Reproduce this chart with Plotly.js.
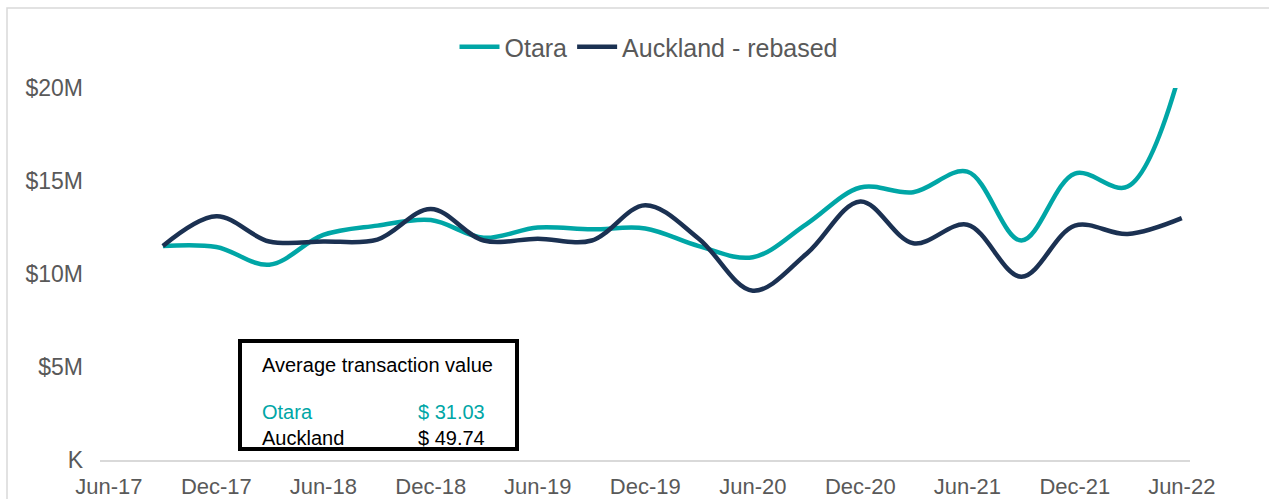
<!DOCTYPE html>
<html>
<head>
<meta charset="utf-8">
<script src="https://cdn.plot.ly/plotly-3.0.1.min.js"></script>
<style>
    body { margin: 0; background: white; }
    #graph { width: 1269px; height: 499px; }
</style>
</head>
<body>
<div id="graph"></div>
<script>
// Datos trimestrales (millones de dolares)
var fechas = ['2017-09-01', '2017-12-01', '2018-03-01', '2018-06-01', '2018-09-01',
    '2018-12-01', '2019-03-01', '2019-06-01', '2019-09-01', '2019-12-01',
    '2020-03-01', '2020-06-01', '2020-09-01', '2020-12-01', '2021-03-01',
    '2021-06-01', '2021-09-01', '2021-12-01', '2022-03-01', '2022-06-01'];
var otara = [11.5, 11.45, 10.5, 12.1, 12.6, 12.9, 11.95, 12.5, 12.4, 12.45,
    11.5, 10.9, 12.7, 14.65, 14.4, 15.5, 11.8, 15.4, 14.7, 21.2];
var auckland = [11.5, 13.1, 11.75, 11.75, 11.85, 13.5, 11.8, 11.9, 11.8, 13.7,
    11.9, 9.1, 11.1, 13.9, 11.65, 12.65, 9.85, 12.6, 12.15, 13.0];
var nombres = ['Otara', 'Auckland - rebased'];
var yTicks = [0, 5, 10, 15, 20];
var yLabels = ['K', '$5M', '$10M', '$15M', '$20M'];

// Texto del recuadro
var cajaTitulo = 'Average transaction value';
var cajaFilas = [['Otara', '$ 31.03'], ['Auckland', '$ 49.74']];

var colorOtara = '#00A6A6';
var colorAuck = '#1B3152';
var gris = '#595959';
var fuente = 'Liberation Sans, Arial, sans-serif';

// Pasa pixeles de la imagen a coordenadas "paper"
var px0 = 100, px1 = 1190, py0 = 460, py1 = 88;
function paperX(px) { return (px - px0) / (px1 - px0); }
function paperY(py) { return (py0 - py) / (py0 - py1); }

var trazaOtara = {
    x: fechas,
    y: otara,
    mode: 'lines',
    name: nombres[0],
    line: { color: colorOtara, width: 4.5, shape: 'spline', smoothing: 1 }
};
var trazaAuck = {
    x: fechas,
    y: auckland,
    mode: 'lines',
    name: nombres[1],
    line: { color: colorAuck, width: 4.5, shape: 'spline', smoothing: 1 }
};

var anotaciones = [{
    xref: 'paper', yref: 'paper',
    x: paperX(260), y: paperY(365),
    xanchor: 'left', yanchor: 'middle',
    text: cajaTitulo, showarrow: false,
    font: { family: fuente, size: 20, color: 'black' }
}];
var filasY = [412, 438];
var filasColor = [colorOtara, 'black'];
for (var i = 0; i < cajaFilas.length; i++) {
    anotaciones.push({
        xref: 'paper', yref: 'paper',
        x: paperX(260), y: paperY(filasY[i]),
        xanchor: 'left', yanchor: 'middle',
        text: cajaFilas[i][0], showarrow: false,
        font: { family: fuente, size: 20, color: filasColor[i] }
    });
    anotaciones.push({
        xref: 'paper', yref: 'paper',
        x: paperX(487), y: paperY(filasY[i]),
        xanchor: 'right', yanchor: 'middle',
        text: cajaFilas[i][1], showarrow: false,
        font: { family: fuente, size: 20, color: filasColor[i] }
    });
}

var formas = [
    // borde exterior del grafico
    {
        type: 'rect', xref: 'paper', yref: 'paper',
        x0: paperX(7), x1: paperX(1300), y0: paperY(530), y1: paperY(8),
        line: { color: '#D9D9D9', width: 1.5 }
    },
    // recuadro
    {
        type: 'rect', xref: 'paper', yref: 'paper',
        x0: paperX(240), x1: paperX(517), y0: paperY(449), y1: paperY(341),
        line: { color: 'black', width: 4 }, fillcolor: 'rgba(0,0,0,0)'
    }
];

var layout = {
    width: 1269,
    height: 499,
    margin: { l: px0, r: 1269 - px1, t: py1, b: 499 - py0 },
    paper_bgcolor: 'white',
    plot_bgcolor: 'white',
    font: { family: fuente, color: gris },
    showlegend: true,
    legend: {
        orientation: 'h',
        x: paperX(649), xanchor: 'center',
        y: paperY(47), yanchor: 'middle',
        font: { size: 25, color: gris },
        itemwidth: 40
    },
    xaxis: {
        type: 'date',
        range: ['2017-05-17', '2022-06-15'],
        tick0: '2017-06-01',
        dtick: 'M6',
        tickformat: '%b-%y',
        tickfont: { size: 22, color: gris },
        showgrid: false,
        zeroline: false,
        showline: true,
        linecolor: '#D9D9D9',
        linewidth: 2,
        ticks: '',
        ticklabelstandoff: 6
    },
    yaxis: {
        range: [0, 20],
        tickvals: yTicks,
        ticktext: yLabels,
        tickfont: { size: 23, color: gris },
        showgrid: false,
        zeroline: false,
        showline: false,
        ticks: '',
        ticklabelstandoff: 16
    },
    shapes: formas,
    annotations: anotaciones
};

var config = { staticPlot: true };

Plotly.newPlot('graph', [trazaOtara, trazaAuck], layout, config);
</script>
</body>
</html>
